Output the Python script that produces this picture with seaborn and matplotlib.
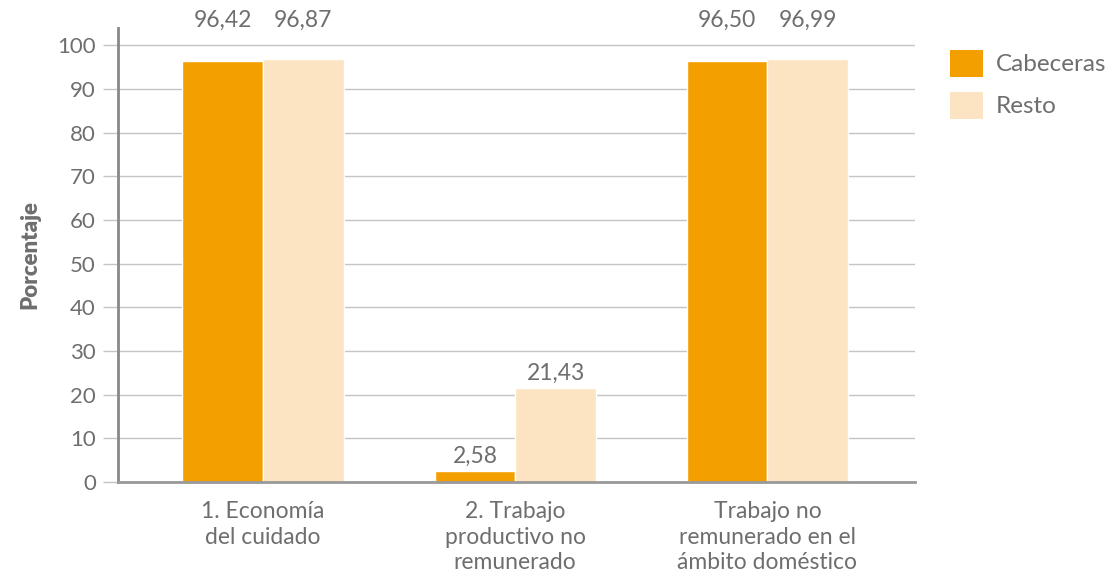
import numpy as np
import pandas as pd
import matplotlib.pyplot as plt
import seaborn as sns
from matplotlib.patches import Patch

categorias = ['1. Economía\ndel cuidado',
              '2. Trabajo\nproductivo no\nremunerado',
              'Trabajo no\nremunerado en el\námbito doméstico']
cabeceras = [96.42, 2.58, 96.50]
resto = [96.87, 21.43, 96.99]
etiquetas_cab = ['96,42', '2,58', '96,50']
etiquetas_res = ['96,87', '21,43', '96,99']

colores = {'Cabeceras': '#F49F00', 'Resto': '#FCE3C2'}
gris = '#6E6E6E'

df = pd.DataFrame({
    'categoria': categorias * 2,
    'zona': ['Cabeceras'] * 3 + ['Resto'] * 3,
    'valor': cabeceras + resto,
    'etiqueta': etiquetas_cab + etiquetas_res,
})

sns.set_style('white')
plt.rcParams['font.family'] = ['Lato', 'DejaVu Sans']

fig = plt.figure(figsize=(11.2, 5.8), dpi=100)
ax = fig.add_axes([118 / 1120, 1 - 482 / 580, (915 - 118) / 1120, (482 - 28) / 580])

sns.barplot(data=df, x='categoria', y='valor', hue='zona', palette=colores,
            width=0.64, gap=0, saturation=1, legend=False, ax=ax)

ax.set_ylim(0, 104)
ax.set_xlim(-0.575, 2.585)
ax.set_yticks(np.arange(0, 101, 10))
ax.yaxis.grid(True, color='#C4C4C4', linewidth=1)
ax.set_axisbelow(True)
for s in ['top', 'right']:
    ax.spines[s].set_visible(False)
ax.spines['left'].set_color('#888888')
ax.spines['left'].set_linewidth(2)
ax.spines['bottom'].set_color('#999999')
ax.spines['bottom'].set_linewidth(2)
ax.tick_params(axis='y', length=11, color='#C4C4C4', width=1, labelsize=16,
               labelcolor=gris, pad=5, left=True)
ax.tick_params(axis='x', length=0, labelsize=16.5, labelcolor=gris, pad=14)
for t in ax.get_xticklabels():
    t.set_linespacing(1.25)
ax.set_xlabel('')
ax.set_ylabel('Porcentaje', fontsize=16, fontweight='heavy', color=gris)
ax.yaxis.set_label_coords(-0.097, 0.5)

# etiquetas de valores
n = len(categorias)
for i, cont in enumerate(ax.containers):
    for j, bar in enumerate(cont):
        lab = df['etiqueta'].iloc[i * n + j]
        h = bar.get_height()
        xc = bar.get_x() + bar.get_width() / 2
        if h > 90:
            ax.text(xc, 105.8, lab, ha='center', va='center', fontsize=16.5,
                    color=gris, clip_on=False)
        else:
            ax.annotate(lab, (xc, h), xytext=(0, 3), textcoords='offset points',
                        ha='center', va='bottom', fontsize=16.5, color=gris)

handles = [Patch(facecolor=colores[k], edgecolor='none') for k in colores]
fig.legend(handles, list(colores), loc='upper left', bbox_to_anchor=(940 / 1120, 1 - 40 / 580),
           frameon=False, fontsize=17.5, labelcolor=gris, handlelength=1.35, handleheight=1.35,
           handletextpad=0.55, labelspacing=0.6, borderaxespad=0)

fig.savefig('out.png', dpi=100)
